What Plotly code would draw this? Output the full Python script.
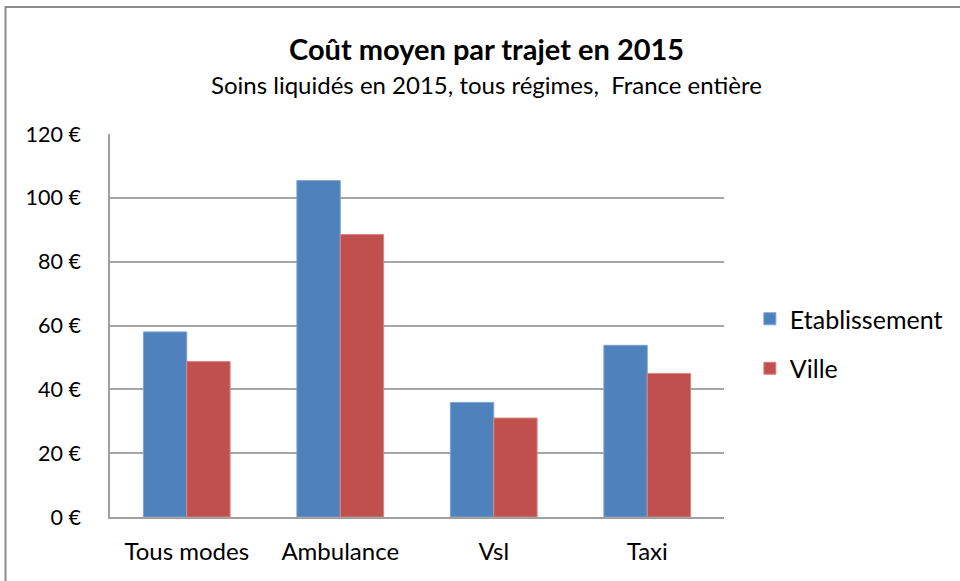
import plotly.graph_objects as go

categories = ["Tous modes", "Ambulance", "Vsl", "Taxi"]
etablissement = [58.0, 105.4, 35.9, 53.8]
ville = [48.7, 88.5, 31.0, 45.0]
tick_vals = [0, 20, 40, 60, 80, 100, 120]
tick_text = ["0 €", "20 €", "40 €", "60 €", "80 €", "100 €", "120 €"]

FONT = "Lato, 'Open Sans', sans-serif"
W, H = 960, 581
L, R, T, B = 110, 233, 134, 64

fig = go.Figure()
fig.add_trace(go.Bar(name="Etablissement", x=categories, y=etablissement,
                     marker=dict(color="#4F81BD", line=dict(color="#7FA3D3", width=1)),
                     legendgroup="a"))
fig.add_trace(go.Bar(name="Ville", x=categories, y=ville,
                     marker=dict(color="#C0504D", line=dict(color="#D88583", width=1)),
                     legendgroup="b"))

pw = W - L - R
ph = H - T - B
def px_x(x): return (x - L) / pw
def px_y(y): return (H - B - y) / ph

fig.update_layout(
    width=W, height=H,
    margin=dict(l=L, r=R, t=T, b=B),
    paper_bgcolor="white", plot_bgcolor="white",
    font=dict(family=FONT, color="#000000", size=22),
    barmode="group", bargap=0.435, bargroupgap=0,
    showlegend=True,
    legend=dict(x=px_x(753), y=px_y(296), xanchor="left", yanchor="top",
                font=dict(size=25, family=FONT), tracegroupgap=14,
                bgcolor="rgba(0,0,0,0)", itemwidth=30),
    xaxis=dict(showline=True, linecolor="#A0A0A0", linewidth=1.5,
               ticks="", tickfont=dict(size=24, family=FONT), ticklabelstandoff=12),
    yaxis=dict(range=[0, 120], tickvals=tick_vals, ticktext=tick_text,
               showgrid=True, gridcolor="#A6A6A6", gridwidth=1.5,
               showline=True, linecolor="#A0A0A0", linewidth=1.5,
               ticks="", tickfont=dict(size=21.5, family=FONT), zeroline=False,
               ticklabelstandoff=23),
    annotations=[
        dict(text="<b>Coût moyen par trajet en 2015</b>", x=px_x(488), y=px_y(48),
             xref="paper", yref="paper", showarrow=False, xanchor="center", yanchor="middle",
             font=dict(size=29, family=FONT)),
        dict(text="Soins liquidés en 2015, tous régimes,  France entière", x=px_x(488), y=px_y(84),
             xref="paper", yref="paper", showarrow=False, xanchor="center", yanchor="middle",
             font=dict(size=24, family=FONT)),
    ],
    shapes=[
        dict(type="rect", xref="paper", yref="paper",
             x0=px_x(5), x1=px_x(975), y0=px_y(600), y1=px_y(7),
             line=dict(color="#8C8C8C", width=2), fillcolor="rgba(0,0,0,0)", layer="below"),
    ],
)

fig.write_html("out.html", config={"displayModeBar": False},
               post_script="document.body.style.margin='0';")
